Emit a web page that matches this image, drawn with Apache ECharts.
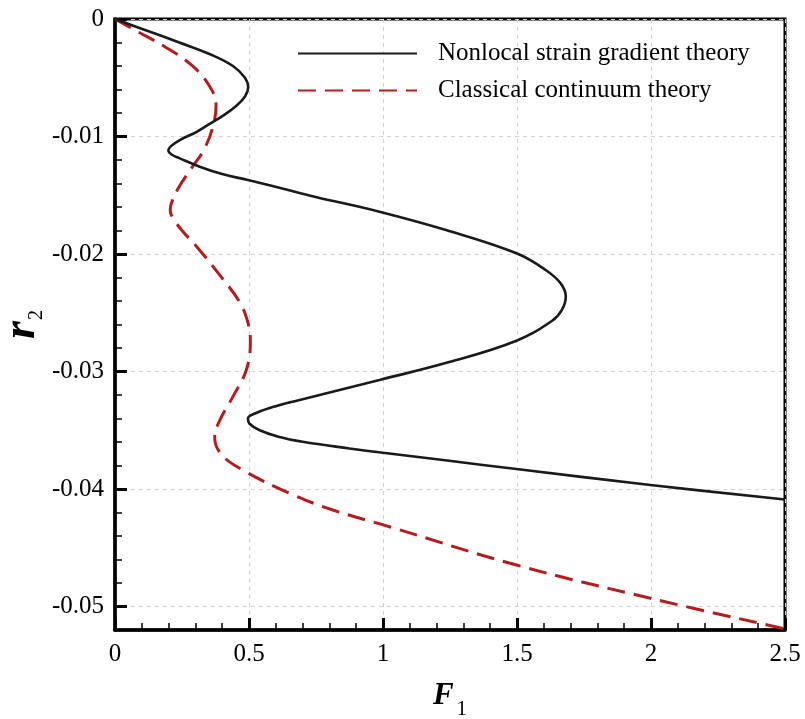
<!DOCTYPE html>
<html>
<head>
<meta charset="utf-8">
<script src="https://cdn.jsdelivr.net/npm/echarts@6/dist/echarts.min.js"></script>
<style>
  html, body { margin: 0; padding: 0; background: #fff; }
  #chart { width: 805px; height: 719px; }
</style>
</head>
<body>
<div id="chart"></div>
<script>
// curve points as [F1, r2]
const nonlocalPts = [
  [0, 0], [0.12, -0.0010], [0.24, -0.0020], [0.355, -0.0030], [0.44, -0.0040],
  [0.485, -0.0050], [0.497, -0.0058], [0.485, -0.0066], [0.452, -0.0074], [0.405, -0.0082],
  [0.355, -0.0089], [0.305, -0.0096], [0.242, -0.0103], [0.210, -0.0108], [0.199, -0.0112],
  [0.212, -0.01155], [0.242, -0.01186], [0.316, -0.01257], [0.400, -0.0132], [0.496, -0.0137],
  [0.62, -0.0144], [0.745, -0.01512], [0.987, -0.0164], [1.235, -0.01796], [1.498, -0.01994],
  [1.607, -0.02136], [1.663, -0.0225], [1.682, -0.02363], [1.667, -0.02477], [1.630, -0.02570],
  [1.498, -0.02738], [1.247, -0.02920], [0.987, -0.03072], [0.875, -0.03136], [0.689, -0.03243],
  [0.600, -0.03295], [0.525, -0.03355], [0.496, -0.03400], [0.502, -0.03445], [0.540, -0.03500],
  [0.610, -0.03555], [0.700, -0.03598], [0.875, -0.03655], [1.0, -0.03692], [1.247, -0.03760],
  [1.498, -0.03830], [1.998, -0.03966], [2.5, -0.0409]
];
const classicalPts = [
  [0, 0], [0.074, -0.00094], [0.186, -0.00236], [0.285, -0.00391], [0.350, -0.00562],
  [0.377, -0.00732], [0.370, -0.00874], [0.335, -0.011], [0.285, -0.01271], [0.236, -0.01441],
  [0.210, -0.0157], [0.206, -0.0163], [0.218, -0.0170], [0.250, -0.0180], [0.305, -0.01938],
  [0.391, -0.0218], [0.465, -0.0241], [0.498, -0.0260], [0.505, -0.0275], [0.490, -0.02987],
  [0.44, -0.03214], [0.390, -0.03420], [0.372, -0.0356], [0.395, -0.03700], [0.470, -0.03830],
  [0.652, -0.04037], [0.813, -0.04179], [1.024, -0.04321], [1.498, -0.04647], [1.998, -0.0493],
  [2.5, -0.0519]
];
const seriesNames = ['Nonlocal strain gradient theory', 'Classical continuum theory'];
const yMajor = [0, -0.01, -0.02, -0.03, -0.04, -0.05];
const yMinor = [];
for (let k = 0; k <= 26; k++) yMinor.push(-k * 0.002);

const serif = 'Liberation Serif';
const chart = echarts.init(document.getElementById('chart'));

const option = {
  animation: false,
  grid: { left: 115, right: 20, top: 19, bottom: 89, show: true, borderColor: '#000', borderWidth: 3,
    containLabel: false, outerBoundsMode: 'none' },
  legend: {
    orient: 'vertical', left: 292, top: 36, itemWidth: 119, itemHeight: 14, itemGap: 12,
    itemStyle: { color: 'transparent', borderWidth: 0 },
    textStyle: { fontFamily: serif, fontSize: 25, color: '#000', padding: [0, 0, 0, 16] },
    data: seriesNames
  },
  xAxis: {
    type: 'value', min: 0, max: 2.5, interval: 0.5,
    name: '{f|F}{s|1}', nameLocation: 'middle', nameGap: 50, nameMoveOverlap: false,
    nameTextStyle: {
      rich: {
        f: { fontFamily: serif, fontSize: 31, fontStyle: 'italic', fontWeight: 'bold', color: '#000', verticalAlign: 'top', lineHeight: 34 },
        s: { fontFamily: serif, fontSize: 21, color: '#000', verticalAlign: 'top', lineHeight: 21, padding: [19, 0, 0, 3] }
      }
    },
    axisLine: { onZero: false, lineStyle: { color: '#000', width: 3.5 } },
    axisTick: { inside: true, length: 12, lineStyle: { color: '#000', width: 3 } },
    minorTick: { show: true, splitNumber: 5, length: 7, lineStyle: { color: '#000', width: 1.5 } },
    axisLabel: { fontFamily: serif, fontSize: 25, color: '#000', margin: 12,
      formatter: v => String(+v.toFixed(1)) },
    splitLine: { show: true, lineStyle: { color: '#d4d4d4', width: 1, type: [4, 4] } }
  },
  yAxis: [{
    type: 'value', min: -0.052, max: 0,
    name: '{r|r}{s|2}', nameLocation: 'middle', nameRotate: 90, nameGap: 70, nameMoveOverlap: false,
    nameTextStyle: {
      rich: {
        r: { fontFamily: serif, fontSize: 46, fontStyle: 'italic', fontWeight: 'bold', color: '#000', verticalAlign: 'top', lineHeight: 46 },
        s: { fontFamily: serif, fontSize: 20, color: '#000', verticalAlign: 'top', lineHeight: 20, padding: [28, 0, 0, 1] }
      }
    },
    axisLine: { onZero: false, lineStyle: { color: '#000', width: 3.5 } },
    axisTick: { inside: true, length: 12, customValues: yMajor, lineStyle: { color: '#000', width: 3 } },
    axisLabel: { fontFamily: serif, fontSize: 25, color: '#000', margin: 11, customValues: yMajor,
      formatter: v => String(+v.toFixed(2)) },
    splitLine: { show: true, lineStyle: { color: '#d4d4d4', width: 1, type: [4, 4] } }
  }, {
    type: 'value', min: -0.052, max: 0, position: 'left',
    axisLine: { show: false, onZero: false },
    axisTick: { inside: true, length: 7, customValues: yMinor, lineStyle: { color: '#000', width: 1.5 } },
    axisLabel: { show: false },
    splitLine: { show: false }
  }],
  series: [{
    name: seriesNames[0], type: 'line', data: nonlocalPts, smooth: 0.4, symbol: 'none',
    lineStyle: { color: '#1a1a1a', width: 2.6 }, itemStyle: { color: '#1a1a1a' }, z: 3
  }, {
    name: seriesNames[1], type: 'line', data: classicalPts, smooth: 0.4, symbol: 'none',
    lineStyle: { color: '#b71c1c', width: 3, type: [18, 9] }, itemStyle: { color: '#b71c1c' }, z: 2
  }]
};
chart.setOption(option);
</script>
</body>
</html>
